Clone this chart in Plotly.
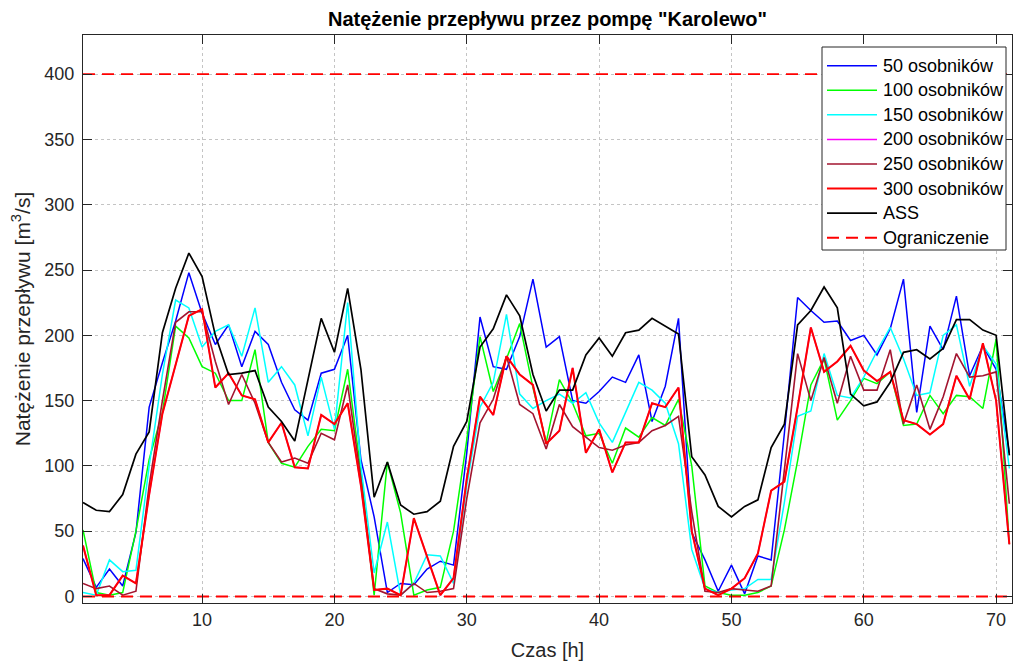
import plotly.graph_objects as go

# Hourly pump flow rate, "Karolewo" station, for various population sizes
hours = list(range(1, 72))

flow_50 = [29, 7, 21, 8, 49, 145, 179, 211, 248, 217,
           193, 208, 176, 203, 193, 164, 143, 135, 171, 174,
           200, 105, 61, 3, 10, 9, 21, 27, 24, 110,
           214, 176, 174, 199, 243, 191, 199, 150, 148, 157,
           168, 164, 185, 134, 161, 213, 49, 28, 4, 24,
           2, 31, 28, 125, 229, 219, 210, 211, 196, 200,
           185, 205, 243, 141, 207, 189, 230, 169, 192, 174,
           110]

flow_100 = [51, 3, 1, 3, 50, 105, 141, 207, 198, 176,
            171, 150, 150, 189, 118, 102, 99, 115, 128, 127,
            174, 95, 1, 103, 64, 1, 5, 7, 50, 120,
            199, 157, 182, 209, 160, 118, 166, 148, 123, 125,
            102, 129, 122, 137, 131, 151, 100, 8, 3, 1,
            1, 3, 8, 51, 104, 162, 182, 135, 150, 167,
            163, 172, 131, 132, 154, 140, 154, 153, 144, 197,
            40]

flow_150 = [3, 1, 28, 19, 20, 100, 170, 227, 221, 191,
            203, 208, 184, 221, 164, 176, 162, 123, 168, 128,
            225, 100, 18, 57, 1, 10, 32, 31, 10, 85,
            145, 164, 216, 155, 144, 150, 155, 148, 156, 133,
            118, 141, 164, 158, 148, 117, 36, 6, 3, 5,
            6, 13, 13, 72, 138, 142, 186, 154, 152, 168,
            188, 206, 182, 154, 156, 200, 208, 161, 192, 178,
            98]

flow_300 = [39, 1, 1, 16, 10, 78, 140, 178, 215, 220,
            160, 171, 154, 151, 118, 133, 99, 98, 139, 132,
            148, 85, 5, 6, 1, 60, 31, 1, 14, 90,
            153, 139, 184, 170, 162, 117, 127, 175, 110, 128,
            95, 118, 118, 148, 145, 160, 50, 6, 1, 6,
            14, 33, 81, 88, 145, 206, 172, 180, 192, 173,
            165, 172, 135, 132, 124, 132, 169, 151, 194, 150,
            40]

# the 200-individual run converged to the same schedule as the 300 one
flow_200 = list(flow_300)

flow_250 = [10, 6, 8, 1, 4, 85, 150, 210, 218, 218,
            180, 147, 170, 148, 118, 103, 106, 102, 125, 120,
            162, 90, 6, 2, 1, 10, 3, 4, 6, 75,
            133, 151, 184, 147, 140, 113, 147, 130, 122, 114,
            112, 116, 118, 127, 131, 138, 65, 4, 3, 6,
            5, 4, 8, 95, 186, 150, 183, 148, 184, 158,
            158, 189, 132, 162, 128, 153, 186, 168, 169, 172,
            71]

flow_ass = [72, 66, 65, 78, 109, 126, 202, 236, 263, 245,
            200, 170, 171, 173, 145, 134, 119, 165, 213, 187,
            236, 174, 76, 103, 70, 63, 65, 73, 115, 134,
            191, 205, 231, 215, 170, 142, 158, 158, 185, 198,
            184, 202, 204, 213, 207, 201, 107, 93, 69, 61,
            69, 74, 114, 132, 208, 219, 237, 221, 155, 146,
            149, 164, 187, 189, 182, 190, 212, 212, 204, 200,
            108]

limit_lower = 0
limit_upper = 400

series = [
    ("50 osobników", flow_50, "rgb(0,0,255)", 1.5),
    ("100 osobników", flow_100, "rgb(0,255,0)", 1.5),
    ("150 osobników", flow_150, "rgb(0,255,255)", 1.5),
    ("200 osobników", flow_200, "rgb(255,0,255)", 1.5),
    ("250 osobników", flow_250, "rgb(162,20,47)", 1.6),
    ("300 osobników", flow_300, "rgb(255,0,0)", 2.0),
    ("ASS", flow_ass, "rgb(0,0,0)", 1.7),
]
LIMIT_NAME = "Ograniczenie"
LIMIT_COLOR = "rgb(255,0,0)"
LIMIT_DASH = "12px,7px"

FONT = "Liberation Sans, Arial, Helvetica, sans-serif"

# figure / axes box in pixels
W, H = 1013, 663
M_L, M_R, M_T, M_B = 83, 1, 35, 60
PLOT_W = W - M_L - M_R
PLOT_H = H - M_T - M_B


def px_x(px):
    return (px - M_L) / PLOT_W


def px_y(py):
    return (H - M_B - py) / PLOT_H


fig = go.Figure()
for name, values, color, width in series:
    fig.add_trace(go.Scatter(
        x=hours, y=values, mode="lines", name=name, showlegend=False,
        line=dict(color=color, width=width),
    ))

# pump capacity limits (lower and upper) drawn as one dashed series
x0, x1 = hours[0], hours[-1]
fig.add_trace(go.Scatter(
    x=[x0, x1, None, x0, x1],
    y=[limit_upper, limit_upper, None, limit_lower, limit_lower],
    mode="lines", name=LIMIT_NAME, showlegend=False,
    line=dict(color=LIMIT_COLOR, width=1.9, dash=LIMIT_DASH),
))

# boxed legend in the upper right corner, with long line samples
LEG_L, LEG_R, LEG_T, LEG_B = 822, 1006, 47, 250
ROW0, ROW_STEP = 65.7, 24.57
SAMPLE_L, SAMPLE_R, TEXT_L = 827, 877, 881

shapes = [dict(
    type="rect", xref="paper", yref="paper",
    x0=px_x(LEG_L), x1=px_x(LEG_R), y0=px_y(LEG_B), y1=px_y(LEG_T),
    line=dict(color="#262626", width=1), fillcolor="white", layer="above",
)]
annotations = []
entries = [(n, c, w, "solid") for n, _, c, w in series]
entries.append((LIMIT_NAME, LIMIT_COLOR, 1.9, LIMIT_DASH))
for i, (name, color, width, dash) in enumerate(entries):
    ry = ROW0 + i * ROW_STEP
    shapes.append(dict(
        type="line", xref="paper", yref="paper",
        x0=px_x(SAMPLE_L), x1=px_x(SAMPLE_R), y0=px_y(ry), y1=px_y(ry),
        line=dict(color=color, width=width, dash=dash), layer="above",
    ))
    annotations.append(dict(
        xref="paper", yref="paper", x=px_x(TEXT_L), y=px_y(ry),
        xanchor="left", yanchor="middle", showarrow=False, text=name,
        font=dict(family=FONT, size=18, color="#000000"),
    ))

axis_common = dict(
    showline=True, linecolor="#262626", linewidth=1, mirror="ticks",
    ticks="inside", ticklen=9, tickcolor="#262626", tickwidth=1,
    showgrid=True, gridcolor="#c4c4c4", gridwidth=1, griddash="dot",
    zeroline=False, tickfont=dict(family=FONT, size=18, color="#262626"),
)

fig.update_layout(
    width=W, height=H,
    margin=dict(l=M_L, r=M_R, t=M_T, b=M_B),
    paper_bgcolor="white", plot_bgcolor="white",
    font=dict(family=FONT, color="#262626"),
    title=dict(
        text="<b>Natężenie przepływu przez pompę \"Karolewo\"</b>",
        x=0.5, xref="paper", xanchor="center", y=0.972, yanchor="middle",
        font=dict(family=FONT, size=20, color="#000000"),
    ),
    xaxis=dict(
        range=[1, 71.2], tickvals=[10, 20, 30, 40, 50, 60, 70],
        title=dict(text="Czas [h]", font=dict(family=FONT, size=20), standoff=14),
        **axis_common,
    ),
    yaxis=dict(
        range=[-5, 430], tickvals=[0, 50, 100, 150, 200, 250, 300, 350, 400],
        ticklabelstandoff=4,
        title=dict(text="Natężenie przepływu [m<sup>3</sup>/s]",
                   font=dict(family=FONT, size=21), standoff=8),
        **axis_common,
    ),
    shapes=shapes,
    annotations=annotations,
    showlegend=False,
)

fig.write_html("out.html")
